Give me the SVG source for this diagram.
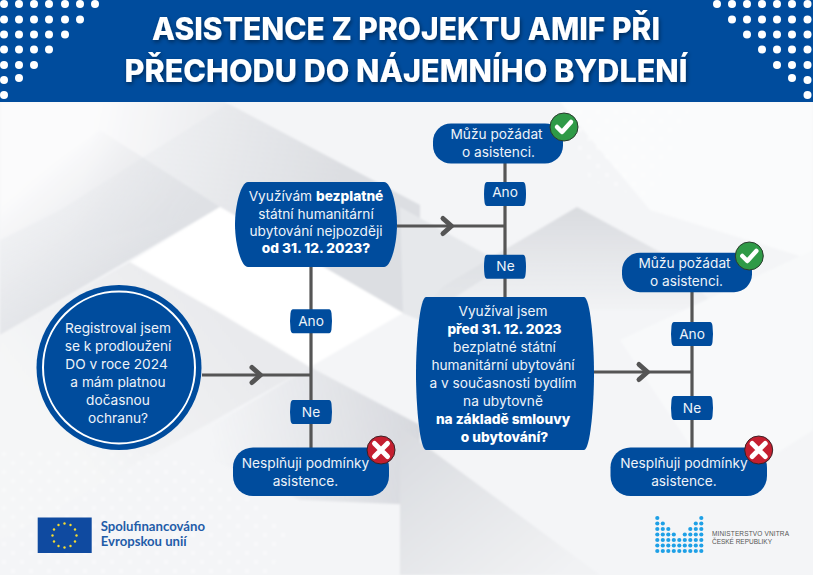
<svg xmlns="http://www.w3.org/2000/svg" width="813" height="575" viewBox="0 0 813 575">
<defs>
<filter id="sh" x="-5%" y="-20%" width="110%" height="150%"><feDropShadow dx="1" dy="2" stdDeviation="2" flood-color="#000" flood-opacity=".45"/></filter>
<filter id="soft" x="0" y="0" width="100%" height="100%"><feGaussianBlur stdDeviation="1"/></filter>
<linearGradient id="g1" gradientUnits="userSpaceOnUse" x1="90" y1="140" x2="340" y2="190"><stop offset="0" stop-color="#dcdee2" stop-opacity="0"/><stop offset="1" stop-color="#dcdee2"/></linearGradient>
<linearGradient id="g2" gradientUnits="userSpaceOnUse" x1="40" y1="170" x2="125" y2="270"><stop offset="0" stop-color="#dfe1e5" stop-opacity="0"/><stop offset="1" stop-color="#dfe1e5"/></linearGradient>
<linearGradient id="g3" gradientUnits="userSpaceOnUse" x1="210" y1="440" x2="420" y2="430"><stop offset="0" stop-color="#d7d9de" stop-opacity="0"/><stop offset="1" stop-color="#d7d9de"/></linearGradient>
<linearGradient id="g4" gradientUnits="userSpaceOnUse" x1="0" y1="205" x2="0" y2="320"><stop offset="0" stop-color="#d9dbdf"/><stop offset="1" stop-color="#d9dbdf" stop-opacity="0"/></linearGradient>
<linearGradient id="g5" gradientUnits="userSpaceOnUse" x1="410" y1="430" x2="540" y2="590"><stop offset="0" stop-color="#dadce0"/><stop offset="1" stop-color="#f1f2f4"/></linearGradient>
<linearGradient id="g6" gradientUnits="userSpaceOnUse" x1="230" y1="330" x2="70" y2="450"><stop offset="0" stop-color="#e9eaed"/><stop offset="1" stop-color="#f5f6f7"/></linearGradient>
<pattern id="pd" width="18" height="18" patternUnits="userSpaceOnUse"><circle cx="4" cy="4" r="2.200" fill="#fff"/><circle cx="13" cy="13" r="2.200" fill="#fff"/></pattern>
<path id="chev" d="M-10,-7.500 L-1.500,0 L-10,7.500" fill="none" stroke="#555" stroke-width="5" stroke-linecap="round" stroke-linejoin="round"/>
<path id="tag" d="M-18,-12 H18 Q20,-12 20.500,-8 Q21.500,0 20.500,8 Q20,12 18,12 H-18 Q-20,12 -20.500,8 Q-21.500,0 -20.500,-8 Q-20,-12 -18,-12Z"/>
<g id="ok"><circle r="14" fill="#2f9a47" stroke="#2b3a2e" stroke-width="1"/><path d="M-7,0 L-2,5 L7,-5" fill="none" stroke="#fff" stroke-width="4.500" stroke-linecap="round" stroke-linejoin="round"/></g>
<g id="no"><circle r="14" fill="#c41f30" stroke="#3a2226" stroke-width="1"/><path d="M-6.500,-6.500 L6.500,6.500 M6.500,-6.500 L-6.500,6.500" fill="none" stroke="#fff" stroke-width="5" stroke-linecap="round"/></g>
</defs>
<style>
.n{fill:#004c9d}
.t{font-family:"Inter","Liberation Sans",sans-serif;font-size:13.700px;fill:#eef3f9;text-anchor:middle}
.b{font-weight:800;fill:#fff}
.h{font-family:"Inter","Liberation Sans",sans-serif;font-weight:800;font-size:31px;fill:#fff;text-anchor:middle}
.c{stroke:#555;stroke-width:3.200;fill:none}
.d{fill:#fff}
.m{fill:#1ea0e6}
.y{fill:#f5dc2e}
.e{font-family:"Lato","Liberation Sans",sans-serif;font-weight:700;font-size:13px;fill:#1f5ca8}
.v{font-family:"Liberation Sans",sans-serif;font-size:6.500px;fill:#555}
</style>
<rect width="813" height="575" fill="#f4f5f7"/>
<g id="background" filter="url(#soft)">
<path d="M0,102 H230 L60,210 L0,240Z" fill="#fbfbfc"/>
<path d="M60,102 H225 L420,205 V320 L403,313 L220,207 L60,250Z" fill="url(#g1)"/>
<path d="M220,207 L0,335 V200 L100,130Z" fill="url(#g2)"/>
<path d="M0,335 L130,262 L220,313 L310,367 L0,540Z" fill="url(#g6)"/>
<path d="M310,367 L420,425 V505 L300,500 L180,445Z" fill="url(#g3)"/>
<path d="M400,207 L505,265 L420,320 L403,313Z" fill="#e6e8eb"/>
<path d="M577,207 L660,252 L720,310 H420 L445,285Z" fill="url(#g4)"/>
<path d="M400,427 L600,575 H400Z" fill="url(#g5)"/>
<path d="M560,102 H813 V260 L650,210Z" fill="#fafbfc"/>
<path d="M620,340 L813,250 V430 L720,490Z" fill="#f8f9fa"/>
<path d="M0,450 L180,455 L290,525 L270,575 H0Z" fill="url(#pd)" opacity=".4"/>
<path d="M560,108 H690 L650,200 L590,180Z" fill="url(#pd)" opacity=".4"/>
<path d="M220,207 L130,262 L220,313 L310,367 L403,313Z" fill="#fff"/>
</g>
<rect id="header" width="813" height="102" fill="#004c9d"/>
<g id="dots" class="d">
<circle cx="4" cy="4" r="4"/><circle cx="19" cy="4" r="4"/><circle cx="34" cy="4" r="4"/><circle cx="49" cy="4" r="4"/><circle cx="65" cy="4" r="4"/><circle cx="80" cy="4" r="4"/><circle cx="95" cy="4" r="4"/>
<circle cx="4" cy="19.500" r="4"/><circle cx="19" cy="19.500" r="4"/><circle cx="34" cy="19.500" r="4"/><circle cx="49" cy="19.500" r="4"/><circle cx="65" cy="19.500" r="4"/><circle cx="80" cy="19.500" r="4"/>
<circle cx="4" cy="34.500" r="4"/><circle cx="19" cy="34.500" r="4"/><circle cx="34" cy="34.500" r="4"/><circle cx="49" cy="34.500" r="4"/><circle cx="65" cy="34.500" r="4"/>
<circle cx="4" cy="49.500" r="4"/><circle cx="19" cy="49.500" r="4"/><circle cx="34" cy="49.500" r="4"/><circle cx="49" cy="49.500" r="4"/>
<circle cx="4" cy="65" r="4"/><circle cx="19" cy="65" r="4"/><circle cx="34" cy="65" r="4"/>
<circle cx="4" cy="80" r="4"/><circle cx="19" cy="78" r="4"/>
<circle cx="4" cy="95" r="4"/>
<circle cx="717" cy="4" r="4"/><circle cx="732" cy="4" r="4"/><circle cx="747" cy="4" r="4"/><circle cx="762" cy="4" r="4"/><circle cx="777" cy="4" r="4"/><circle cx="792" cy="4" r="4"/><circle cx="807.500" cy="4" r="4"/>
<circle cx="732" cy="19.500" r="4"/><circle cx="747" cy="19.500" r="4"/><circle cx="762" cy="19.500" r="4"/><circle cx="777" cy="19.500" r="4"/><circle cx="792" cy="19.500" r="4"/><circle cx="807.500" cy="19.500" r="4"/>
<circle cx="747" cy="34.500" r="4"/><circle cx="762" cy="34.500" r="4"/><circle cx="777" cy="34.500" r="4"/><circle cx="792" cy="34.500" r="4"/><circle cx="807.500" cy="34.500" r="4"/>
<circle cx="762" cy="49.500" r="4"/><circle cx="777" cy="49.500" r="4"/><circle cx="792" cy="49.500" r="4"/><circle cx="807.500" cy="49.500" r="4"/>
<circle cx="777" cy="65" r="4"/><circle cx="792" cy="65" r="4"/><circle cx="807.500" cy="65" r="4"/>
<circle cx="792" cy="78" r="4"/><circle cx="807.500" cy="80" r="4"/>
<circle cx="807.500" cy="95" r="4"/>
</g>
<g id="title" filter="url(#sh)">
<text class="h" x="406" y="39.500" textLength="508" lengthAdjust="spacingAndGlyphs">ASISTENCE Z PROJEKTU AMIF PŘI</text>
<text class="h" x="406" y="82" textLength="563" lengthAdjust="spacingAndGlyphs">PŘECHODU DO NÁJEMNÍHO BYDLENÍ</text>
</g>
<g id="connectors" class="c">
<path d="M202,375 H311"/><path d="M311,267 V448"/>
<path d="M397,226 H505"/><path d="M505,163 V298"/>
<path d="M594,372 H692"/><path d="M692,292 V449"/>
<use href="#chev" x="262" y="375"/><use href="#chev" x="453" y="226"/><use href="#chev" x="649" y="372"/>
</g>
<g id="n-start"><circle class="n" cx="119" cy="367.500" r="82.500"/><circle cx="119" cy="367.500" r="76" fill="none" stroke="#fff" stroke-width="2"/>
<text class="t"><tspan x="118" y="333">Registroval jsem</tspan><tspan x="118" y="351">se k prodloužení</tspan><tspan x="116.500" y="369">DO v roce 2024</tspan><tspan x="118" y="387">a mám platnou</tspan><tspan x="118" y="405">dočasnou</tspan><tspan x="118" y="423">ochranu?</tspan></text></g>
<g id="n-q1"><path class="n" d="M248,182 H384 C391,182 397,205 397,224.500 C397,244 391,267 384,267 H248 C241,267 235,244 235,224.500 C235,205 241,182 248,182Z"/>
<text class="t"><tspan x="316" y="201">Využívám <tspan class="b">bezplatné</tspan></tspan><tspan x="316" y="218.500">státní humanitární</tspan><tspan x="316" y="236">ubytování nejpozději</tspan><tspan x="316" y="253" class="b">od 31. 12. 2023?</tspan></text></g>
<g id="n-q2"><path class="n" d="M426,297 H584 C590,297 594,340 594,373.500 C594,407 590,450 584,450 H426 C420,450 416,407 416,373.500 C416,340 420,297 426,297Z"/>
<text class="t"><tspan x="503" y="316">Využíval jsem</tspan><tspan x="504.500" y="334" class="b">před 31. 12. 2023</tspan><tspan x="504.500" y="352">bezplatné státní</tspan><tspan x="503" y="370">humanitární ubytování</tspan><tspan x="503" y="388">a v současnosti bydlím</tspan><tspan x="503" y="406">na ubytovně</tspan><tspan x="503" y="424" class="b">na základě smlouvy</tspan><tspan x="504.500" y="442" class="b">o ubytování?</tspan></text></g>
<g id="n-ok1"><rect class="n" x="433" y="123.500" width="130" height="40" rx="18"/>
<text class="t"><tspan x="496.500" y="139">Můžu požádat</tspan><tspan x="498.500" y="157">o asistenci.</tspan></text><use href="#ok" x="564" y="127"/></g>
<g id="n-ok2"><rect class="n" x="622" y="252.700" width="130" height="39.500" rx="18"/>
<text class="t"><tspan x="684.500" y="268">Můžu požádat</tspan><tspan x="686.500" y="286">o asistenci.</tspan></text><use href="#ok" x="749.300" y="256"/></g>
<g id="n-no1"><rect class="n" x="233" y="447.500" width="156" height="48.500" rx="20"/>
<text class="t"><tspan x="305.500" y="468">Nesplňuji podmínky</tspan><tspan x="305.500" y="485.500">asistence.</tspan></text><use href="#no" x="381" y="450"/></g>
<g id="n-no2"><rect class="n" x="610.500" y="447.500" width="156.500" height="48.500" rx="20"/>
<text class="t"><tspan x="684" y="468">Nesplňuji podmínky</tspan><tspan x="684" y="485.500">asistence.</tspan></text><use href="#no" x="758.700" y="450"/></g>
<g id="l-ano1"><use class="n" href="#tag" x="311" y="321.300"/><text class="t" x="311" y="326">Ano</text></g>
<g id="l-ne1"><use class="n" href="#tag" x="311" y="412"/><text class="t" x="311" y="417">Ne</text></g>
<g id="l-ano2"><use class="n" href="#tag" x="505" y="194"/><text class="t" x="505" y="197">Ano</text></g>
<g id="l-ne2"><use class="n" href="#tag" x="505" y="266.700"/><text class="t" x="505.500" y="271">Ne</text></g>
<g id="l-ano3"><use class="n" href="#tag" x="692" y="334"/><text class="t" x="692" y="338.500">Ano</text></g>
<g id="l-ne3"><use class="n" href="#tag" x="692" y="408"/><text class="t" x="692" y="413">Ne</text></g>
<g id="eu-logo"><rect x="37.700" y="517.500" width="54" height="35.500" fill="#0f4aa0"/>
<g class="y"><circle cx="64.500" cy="523.500" r="1.200"/><circle cx="70.500" cy="525" r="1.200"/><circle cx="75" cy="529.500" r="1.200"/><circle cx="76.500" cy="535.500" r="1.200"/><circle cx="75" cy="541.500" r="1.200"/><circle cx="70.500" cy="546" r="1.200"/><circle cx="64.500" cy="547.500" r="1.200"/><circle cx="58.500" cy="546" r="1.200"/><circle cx="54" cy="541.500" r="1.200"/><circle cx="52.500" cy="535.500" r="1.200"/><circle cx="54" cy="529.500" r="1.200"/><circle cx="58.500" cy="525" r="1.200"/></g>
<text class="e" x="100.700" y="530.500" textLength="104.300" lengthAdjust="spacingAndGlyphs">Spolufinancováno</text>
<text class="e" x="100.700" y="546" textLength="86" lengthAdjust="spacingAndGlyphs">Evropskou unií</text></g>
<g id="mv-logo"><g class="m" id="mv-dots">
<circle cx="657.300" cy="518" r="2.100"/><circle cx="701.300" cy="518" r="2.100"/>
<circle cx="657.300" cy="523.500" r="2.100"/><circle cx="662.800" cy="523.500" r="2.100"/><circle cx="695.800" cy="523.500" r="2.100"/><circle cx="701.300" cy="523.500" r="2.100"/>
<circle cx="657.300" cy="529" r="2.100"/><circle cx="662.800" cy="529" r="2.100"/><circle cx="668.300" cy="529" r="2.100"/><circle cx="690.300" cy="529" r="2.100"/><circle cx="695.800" cy="529" r="2.100"/><circle cx="701.300" cy="529" r="2.100"/>
<circle cx="657.300" cy="534.500" r="2.100"/><circle cx="662.800" cy="534.500" r="2.100"/><circle cx="668.300" cy="534.500" r="2.100"/><circle cx="673.800" cy="534.500" r="2.100"/><circle cx="684.800" cy="534.500" r="2.100"/><circle cx="690.300" cy="534.500" r="2.100"/><circle cx="695.800" cy="534.500" r="2.100"/><circle cx="701.300" cy="534.500" r="2.100"/>
<circle cx="657.300" cy="540" r="2.100"/><circle cx="662.800" cy="540" r="2.100"/><circle cx="668.300" cy="540" r="2.100"/><circle cx="673.800" cy="540" r="2.100"/><circle cx="679.300" cy="540" r="2.100"/><circle cx="684.800" cy="540" r="2.100"/><circle cx="690.300" cy="540" r="2.100"/><circle cx="695.800" cy="540" r="2.100"/><circle cx="701.300" cy="540" r="2.100"/>
<circle cx="657.300" cy="545.500" r="2.100"/><circle cx="662.800" cy="545.500" r="2.100"/><circle cx="668.300" cy="545.500" r="2.100"/><circle cx="673.800" cy="545.500" r="2.100"/><circle cx="679.300" cy="545.500" r="2.100"/><circle cx="684.800" cy="545.500" r="2.100"/><circle cx="690.300" cy="545.500" r="2.100"/><circle cx="695.800" cy="545.500" r="2.100"/><circle cx="701.300" cy="545.500" r="2.100"/>
<circle cx="657.300" cy="551" r="2.100"/><circle cx="662.800" cy="551" r="2.100"/><circle cx="668.300" cy="551" r="2.100"/><circle cx="673.800" cy="551" r="2.100"/><circle cx="679.300" cy="551" r="2.100"/><circle cx="684.800" cy="551" r="2.100"/><circle cx="690.300" cy="551" r="2.100"/><circle cx="695.800" cy="551" r="2.100"/><circle cx="701.300" cy="551" r="2.100"/></g>
<text class="v" x="712" y="536" textLength="77">MINISTERSTVO VNITRA</text>
<text class="v" x="712" y="544" textLength="60">ČESKÉ REPUBLIKY</text></g>
</svg>
